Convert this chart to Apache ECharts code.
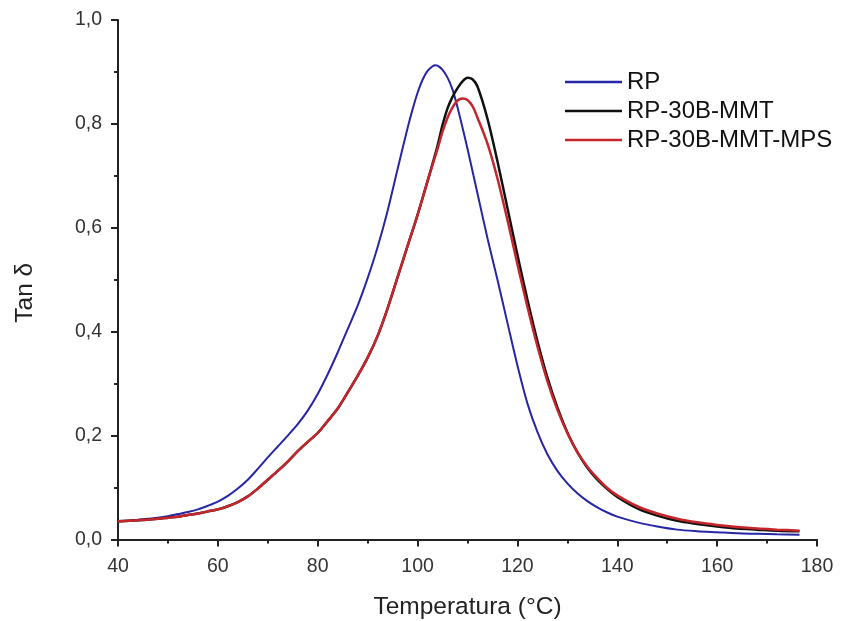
<!DOCTYPE html>
<html>
<head>
<meta charset="utf-8">
<script src="https://cdn.jsdelivr.net/npm/echarts@6/dist/echarts.min.js"></script>
<style>html,body{margin:0;padding:0;background:#fff}#c{width:842px;height:621px}</style>
</head>
<body>
<div id="c"></div>
<script>
const seriesNames = ['RP', 'RP-30B-MMT', 'RP-30B-MMT-MPS'];
const xTicks = [40, 60, 80, 100, 120, 140, 160, 180];
const yTicks = [0, 0.2, 0.4, 0.6, 0.8, 1.0];

const rpTemp = [40,42,44,46,48,50,52,54,56,58,60,62,64,66,68,70,72,74,76,78,80,82,84,86,88,90,92,94,96,98,99,100,101,102,103,103.5,104,105,106,107,108,110,112,114,116,118,120,122,124,126,128,130,132,134,136,138,140,144,148,152,156,160,164,168,172,176.5];
const rpTan  = [0.035,0.036,0.038,0.040,0.042,0.045,0.049,0.053,0.058,0.065,0.073,0.084,0.098,0.115,0.136,0.158,0.179,0.200,0.222,0.248,0.280,0.318,0.360,0.405,0.450,0.503,0.563,0.633,0.713,0.792,0.828,0.860,0.885,0.902,0.911,0.913,0.912,0.904,0.889,0.866,0.832,0.752,0.666,0.580,0.500,0.417,0.335,0.262,0.207,0.164,0.132,0.108,0.089,0.074,0.062,0.052,0.044,0.033,0.025,0.019,0.016,0.014,0.012,0.011,0.010,0.009];

const mmtTemp = [40,44,48,50,52,54,56,58,60,62,64,66,68,70,72,74,76,78,80,82,84,86,88,90,92,94,96,98,100,102,104,105,106,107,108,109,110,111,112,114,116,118,120,122,124,126,128,130,132,134,136,138,140,144,148,152,156,160,164,168,172,176.5];
const mmtTan  = [0.035,0.037,0.040,0.042,0.044,0.047,0.050,0.054,0.058,0.064,0.072,0.083,0.098,0.115,0.132,0.150,0.170,0.188,0.205,0.228,0.252,0.283,0.315,0.350,0.392,0.445,0.505,0.565,0.625,0.690,0.758,0.798,0.830,0.852,0.869,0.882,0.889,0.886,0.872,0.810,0.728,0.638,0.548,0.462,0.382,0.312,0.254,0.206,0.168,0.138,0.115,0.097,0.082,0.060,0.046,0.036,0.030,0.025,0.021,0.019,0.017,0.016];

const mpsTemp = [40,44,48,50,52,54,56,58,60,62,64,66,68,70,72,74,76,78,80,82,84,86,88,90,92,94,96,98,100,102,104,105,106,107,108,109,110,111,112,114,116,118,120,122,124,126,128,130,132,134,136,138,140,144,148,152,156,160,164,168,172,176.5];
const mpsTan  = [0.035,0.037,0.040,0.042,0.044,0.047,0.050,0.054,0.058,0.064,0.072,0.083,0.098,0.115,0.132,0.150,0.170,0.188,0.205,0.228,0.252,0.283,0.315,0.350,0.392,0.445,0.505,0.565,0.625,0.690,0.752,0.785,0.812,0.832,0.845,0.849,0.846,0.834,0.812,0.762,0.695,0.615,0.530,0.448,0.372,0.305,0.250,0.205,0.168,0.140,0.118,0.099,0.085,0.064,0.050,0.040,0.033,0.028,0.024,0.021,0.019,0.017];

const colors = ['#2626a6', '#111111', '#c4262b'];
const zip = (xs, ys) => xs.map((x, i) => [x, ys[i]]);
const font = 'Liberation Sans, Arial, sans-serif';

const chart = echarts.init(document.getElementById('c'), null, {renderer: 'canvas'});
chart.setOption({
  animation: false,
  backgroundColor: '#fff',
  grid: {left: 118, right: 25, top: 20, bottom: 81.5, containLabel: false, outerBoundsMode: 'none'},
  legend: {
    orient: 'vertical', left: 560, top: 65,
    icon: 'rect', itemWidth: 57, itemHeight: 2.5, itemGap: 5,
    textStyle: {fontFamily: font, fontSize: 24, color: '#111'},
    data: seriesNames
  },
  xAxis: {
    type: 'value', min: xTicks[0], max: xTicks[xTicks.length - 1], interval: 20,
    name: 'Temperatura (°C)', nameLocation: 'middle', nameGap: 55,
    nameTextStyle: {fontFamily: font, fontSize: 24.5, color: '#222'},
    axisLine: {show: true, lineStyle: {color: '#222', width: 2}},
    axisTick: {show: true, inside: false, length: 7, lineStyle: {color: '#222', width: 2}},
    minorTick: {show: true, splitNumber: 2, length: 4, lineStyle: {color: '#222', width: 2}},
    axisLabel: {fontFamily: font, fontSize: 19.5, color: '#333', margin: 17},
    splitLine: {show: false}
  },
  yAxis: {
    type: 'value', min: yTicks[0], max: yTicks[yTicks.length - 1], interval: 0.2,
    name: 'Tan δ', nameLocation: 'middle', nameGap: 80, nameRotate: 90,
    nameTextStyle: {fontFamily: font, fontSize: 24.5, color: '#222', padding: [0, 26, 0, 0]},
    axisLine: {show: true, lineStyle: {color: '#222', width: 2}},
    axisTick: {show: true, inside: false, length: 7, lineStyle: {color: '#222', width: 2}},
    minorTick: {show: true, splitNumber: 2, length: 4, lineStyle: {color: '#222', width: 2}},
    axisLabel: {fontFamily: font, fontSize: 19.5, color: '#333', margin: 16,
      formatter: v => v.toFixed(1).replace('.', ',')},
    splitLine: {show: false}
  },
  series: [
    {name: seriesNames[0], type: 'line', data: zip(rpTemp, rpTan), smooth: 0.3, showSymbol: false, symbol: 'none',
     lineStyle: {color: colors[0], width: 2}, itemStyle: {color: colors[0]}},
    {name: seriesNames[1], type: 'line', data: zip(mmtTemp, mmtTan), smooth: 0.3, showSymbol: false, symbol: 'none',
     lineStyle: {color: colors[1], width: 2.5}, itemStyle: {color: colors[1]}},
    {name: seriesNames[2], type: 'line', data: zip(mpsTemp, mpsTan), smooth: 0.3, showSymbol: false, symbol: 'none',
     lineStyle: {color: colors[2], width: 2.5}, itemStyle: {color: colors[2]}}
  ]
});
</script>
</body>
</html>
